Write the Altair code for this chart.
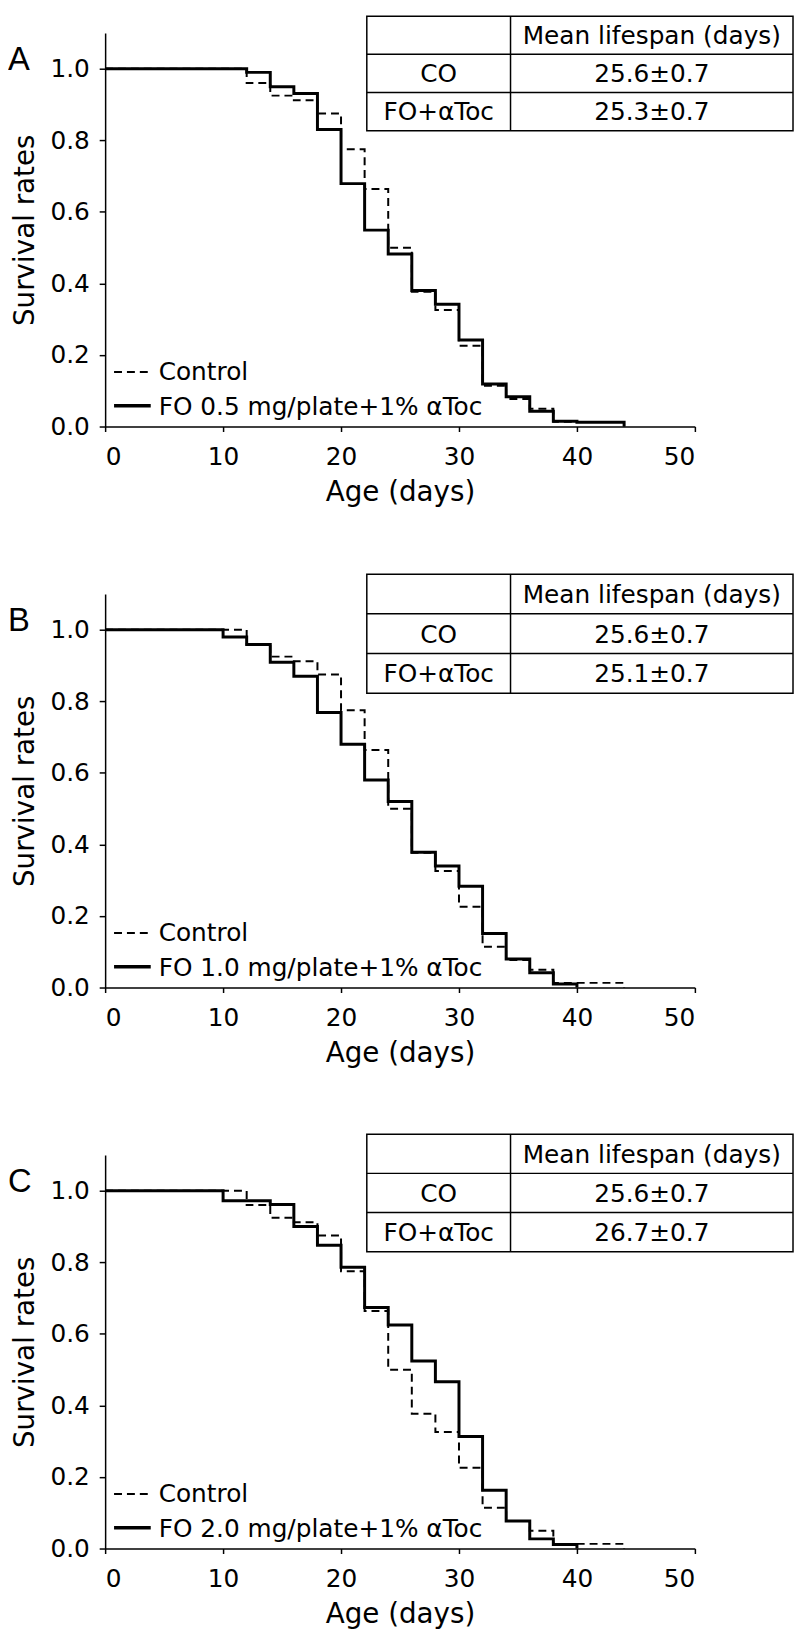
import altair as alt
import pandas as pd

# ---------------- data ----------------
control_t = [0, 12, 14, 16, 18, 20, 22, 24, 26, 28, 30, 32, 34, 36, 38, 44]
control_s = [1.0, 0.96, 0.925, 0.912, 0.875, 0.775, 0.664, 0.50, 0.377, 0.326,
             0.226, 0.114, 0.077, 0.05, 0.013, 0.0]

foA_t = [0, 12, 14, 16, 18, 20, 22, 24, 26, 28, 30, 32, 34, 36, 38, 40, 44]
foA_s = [1.0, 0.99, 0.95, 0.931, 0.83, 0.679, 0.549, 0.482, 0.38, 0.342,
         0.242, 0.119, 0.083, 0.043, 0.015, 0.012, 0.0]

foB_t = [0, 10, 12, 14, 16, 18, 20, 22, 24, 26, 28, 30, 32, 34, 36, 38, 40]
foB_s = [1.0, 0.98, 0.959, 0.909, 0.87, 0.769, 0.68, 0.58, 0.52, 0.378,
         0.34, 0.283, 0.151, 0.08, 0.041, 0.01, 0.0]

foC_t = [0, 10, 14, 16, 18, 20, 22, 24, 26, 28, 30, 32, 34, 36, 38, 40]
foC_s = [1.0, 0.972, 0.962, 0.9, 0.848, 0.786, 0.674, 0.625, 0.524, 0.466,
         0.313, 0.163, 0.077, 0.027, 0.011, 0.0]

panel_letters = ["A", "B", "C"]
control_label = "Control"
fo_labels = ["FO 0.5 mg/plate+1% αToc",
             "FO 1.0 mg/plate+1% αToc",
             "FO 2.0 mg/plate+1% αToc"]
table_header = "Mean lifespan (days)"
table_row_names = ["CO", "FO+αToc"]
co_means = ["25.6±0.7", "25.6±0.7", "25.6±0.7"]
fo_means = ["25.3±0.7", "25.1±0.7", "26.7±0.7"]

x_ticks = [0, 10, 20, 30, 40, 50]
y_ticks = [0.0, 0.2, 0.4, 0.6, 0.8, 1.0]

fo_t = [foA_t, foB_t, foC_t]
fo_s = [foA_s, foB_s, foC_s]

# ---------------- layout constants ----------------
W, H = 595, 397
FONT = "DejaVu Sans"
TBL_X0, TBL_X1, TBL_X2 = 264, 409, 694
TBL_TOP = [-17, -20, -21]
TBL_ROW = [38.5, 40, 39.5]
one = pd.DataFrame({"k": [0]})


def vtext(txt, x, y, size=25, align="center", baseline="middle", font=FONT):
    return alt.Chart(one).mark_text(
        align=align, baseline=baseline, font=font, fontSize=size, color="black"
    ).encode(x=alt.value(x), y=alt.value(y), text=alt.value(txt))


def vrule(x, x2, y, y2, width=1.5, dash=None):
    kw = dict(color="black", strokeWidth=width)
    if dash is not None:
        kw["strokeDash"] = dash
    return alt.Chart(one).mark_rule(**kw).encode(
        x=alt.value(x), x2=alt.value(x2), y=alt.value(y), y2=alt.value(y2))


def panel(i):
    xenc = alt.X("t:Q", scale=alt.Scale(domain=[0, 50], nice=False),
                 axis=alt.Axis(values=x_ticks, title="Age (days)"))
    yenc = alt.Y("s:Q", scale=alt.Scale(domain=[0, 1.1], nice=False),
                 axis=alt.Axis(values=y_ticks, format=".1f", title="Survival rates"))
    ctrl = alt.Chart(pd.DataFrame({"t": control_t, "s": control_s})).mark_line(
        interpolate="step-after", color="black", strokeWidth=2, strokeDash=[8, 5]
    ).encode(x=xenc, y=yenc)
    fo = alt.Chart(pd.DataFrame({"t": fo_t[i], "s": fo_s[i]})).mark_line(
        interpolate="step-after", color="black", strokeWidth=3
    ).encode(x=xenc, y=yenc)

    layers = [ctrl, fo]
    # legend
    layers.append(vrule(9, 46, H - 55, H - 55, width=2, dash=[8, 5]))
    layers.append(vrule(9, 46, H - 21, H - 21, width=3.5))
    layers.append(vtext(control_label, 54, H - 47, align="left", baseline="alphabetic"))
    layers.append(vtext(fo_labels[i], 54, H - 12, align="left", baseline="alphabetic"))

    # table
    top, rh = TBL_TOP[i], TBL_ROW[i]
    bot = top + 3 * rh
    layers.append(alt.Chart(one).mark_rect(fill="white", stroke="black", strokeWidth=1.5).encode(
        x=alt.value(TBL_X0), x2=alt.value(TBL_X2), y=alt.value(top), y2=alt.value(bot)))
    layers.append(vrule(TBL_X0, TBL_X2, top + rh, top + rh))
    layers.append(vrule(TBL_X0, TBL_X2, top + 2 * rh, top + 2 * rh))
    layers.append(vrule(TBL_X1, TBL_X1, top, bot))
    c1 = (TBL_X0 + TBL_X1) / 2
    c2 = (TBL_X1 + TBL_X2) / 2
    layers.append(vtext(table_header, c2, top + rh / 2 + 1))
    layers.append(vtext(table_row_names[0], c1, top + 1.5 * rh + 1))
    layers.append(vtext(co_means[i], c2, top + 1.5 * rh + 1))
    layers.append(vtext(table_row_names[1], c1, top + 2.5 * rh + 1))
    layers.append(vtext(fo_means[i], c2, top + 2.5 * rh + 1))

    # panel letter
    layers.append(vtext(panel_letters[i], -98, 37, size=33, align="left",
                        baseline="alphabetic", font="Liberation Sans"))
    return alt.layer(*layers).properties(width=W, height=H)


chart = alt.vconcat(panel(0), panel(1), panel(2), spacing=169, bounds="flush").properties(
    padding={"left": 0, "top": 0, "right": 0, "bottom": 0}
).configure_view(stroke=None).configure_axis(
    grid=False,
    domainColor="black", domainWidth=1.5,
    tickColor="black", tickWidth=1.5,
    labelFont=FONT, labelFontSize=25, labelColor="black",
    titleFont=FONT, titleFontSize=28, titleFontWeight="normal", titleColor="black",
).configure_axisX(
    tickSize=5, labelPadding=13, titleY=75, titleBaseline="alphabetic",
).configure_axisY(
    tickSize=6, labelPadding=10, titleX=-72, titleY=H / 2, titleBaseline="alphabetic",
    titleAlign="center",
)

chart.save("out.html", embed_options={"renderer": "svg", "actions": False})
